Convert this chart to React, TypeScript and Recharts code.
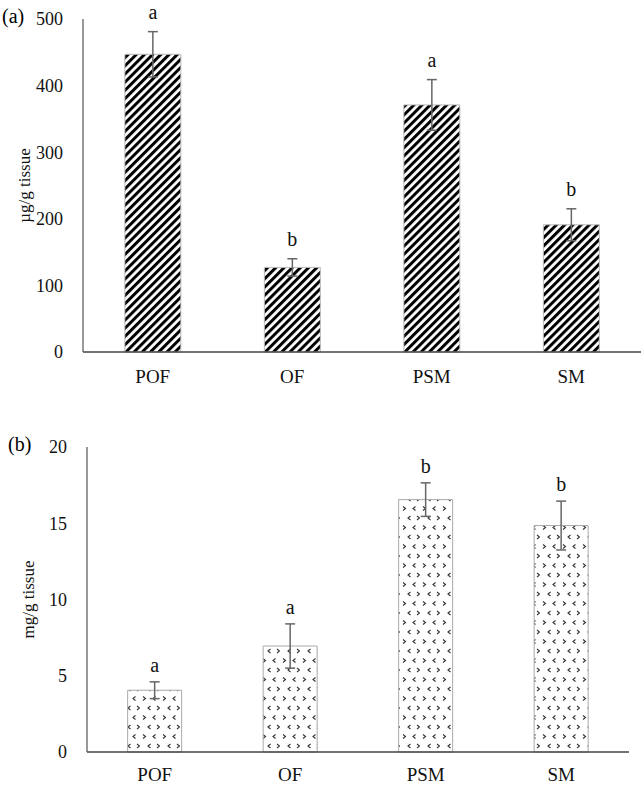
import React from "react";
import { BarChart, Bar, XAxis, YAxis, ErrorBar, LabelList, Label } from "recharts";

const groups = ["POF", "OF", "PSM", "SM"];

// (a) content per gram of tissue, µg
const amountA = [447, 127, 371, 191];
const errorA = [34, 13, 38, 24];
const lettersA = ["a", "b", "a", "b"];
const ticksA = [0, 100, 200, 300, 400, 500];

// (b) content per gram of tissue, mg
const amountB = [4.05, 6.95, 16.55, 14.85];
const errorB = [0.55, 1.45, 1.1, 1.6];
const lettersB = ["a", "a", "b", "b"];
const ticksB = [0, 5, 10, 15, 20];

const FONT = "'Liberation Serif', 'Times New Roman', serif";

const rows = (values: number[], errors: number[]) =>
  groups.map((name, i) => ({ name, value: values[i], err: errors[i] }));

// letter drawn a fixed gap above the top of each error bar
const letterLabel = (letters: string[], errors: number[], gap: number) => (props: any) => {
  const { x, y, width, height, value, index } = props;
  const perUnit = value ? height / value : 0;
  const errTop = y - errors[index] * perUnit;
  return (
    <text
      x={x + width / 2}
      y={errTop - gap}
      textAnchor="middle"
      fontFamily={FONT}
      fontSize={20}
      fill="#111"
    >
      {letters[index]}
    </text>
  );
};

const xTick = { fontFamily: FONT, fontSize: 19, fill: "#111" };
const yTick = { fontFamily: FONT, fontSize: 18, fill: "#111" };

export default function App() {
  return (
    <div style={{ position: "absolute", left: 0, top: 0, width: 644, height: 785, background: "#fff" }}>
      <div style={{ position: "absolute", left: 2, top: 5, fontFamily: FONT, fontSize: 20 }}>(a)</div>
      <div style={{ position: "absolute", left: 8, top: 433, fontFamily: FONT, fontSize: 20 }}>(b)</div>

      <div style={{ position: "absolute", left: 0, top: 0 }}>
        <BarChart
          width={644}
          height={390}
          data={rows(amountA, errorA)}
          margin={{ top: 19, right: 3, bottom: 8, left: 0 }}
          barCategoryGap="30%"
          style={{ overflow: "visible" }}
        >
          <defs>
            <pattern
              id="stripes"
              patternUnits="userSpaceOnUse"
              width={5.8}
              height={8}
              patternTransform="rotate(45)"
            >
              <rect x={0} y={0} width={5.8} height={8} fill="#fff" />
              <rect x={0} y={0} width={3} height={8} fill="#000" />
            </pattern>
          </defs>
          <XAxis
            dataKey="name"
            tickLine={false}
            tickSize={0}
            tickMargin={18}
            height={30}
            axisLine={{ stroke: "#444", strokeWidth: 1.5 }}
            tick={xTick}
          />
          <YAxis
            width={83}
            domain={[0, 500]}
            ticks={ticksA}
            tickLine={false}
            tickSize={0}
            tickMargin={20}
            axisLine={{ stroke: "#555", strokeWidth: 1.2 }}
            tick={yTick}
          >
            <Label
              value="µg/g tissue"
              angle={-90}
              position="center"
              dx={-18}
              style={{ fontFamily: FONT, fontSize: 17, fill: "#111" }}
            />
          </YAxis>
          <Bar dataKey="value" fill="url(#stripes)" stroke="#bbb" strokeWidth={1} isAnimationActive={false}>
            <ErrorBar dataKey="err" width={5} stroke="#666" strokeWidth={1.5} direction="y" />
            <LabelList dataKey="value" content={letterLabel(lettersA, errorA, 13)} />
          </Bar>
        </BarChart>
      </div>

      <div style={{ position: "absolute", left: 0, top: 390 }}>
        <BarChart
          width={644}
          height={395}
          data={rows(amountB, errorB)}
          margin={{ top: 57, right: 15, bottom: 3, left: 0 }}
          barCategoryGap="30%"
        >
          <defs>
            <pattern id="chevrons" patternUnits="userSpaceOnUse" width={20} height={19}>
              <rect x={0} y={0} width={20} height={19} fill="#fff" />
              <g stroke="#333" strokeWidth={1.1} fill="none">
                <path d="M3,2.5 L5.5,4.5 L3,6.5" />
                <path d="M15.5,2.5 L13,4.5 L15.5,6.5" />
                <path d="M10.5,12 L8,14 L10.5,16" />
                <path d="M17,12 L19.5,14 L17,16" />
              </g>
            </pattern>
          </defs>
          <XAxis
            dataKey="name"
            tickLine={false}
            tickSize={0}
            tickMargin={16}
            height={30}
            axisLine={{ stroke: "#444", strokeWidth: 1.5 }}
            tick={xTick}
          />
          <YAxis
            width={87}
            domain={[0, 20]}
            ticks={ticksB}
            tickLine={false}
            tickSize={0}
            tickMargin={20}
            axisLine={{ stroke: "#555", strokeWidth: 1.2 }}
            tick={yTick}
          >
            <Label
              value="mg/g tissue"
              angle={-90}
              position="center"
              dx={-16}
              style={{ fontFamily: FONT, fontSize: 17, fill: "#111" }}
            />
          </YAxis>
          <Bar dataKey="value" fill="url(#chevrons)" stroke="#aaa" strokeWidth={1} isAnimationActive={false}>
            <ErrorBar dataKey="err" width={5} stroke="#666" strokeWidth={1.5} direction="y" />
            <LabelList dataKey="value" content={letterLabel(lettersB, errorB, 10)} />
          </Bar>
        </BarChart>
      </div>
    </div>
  );
}
